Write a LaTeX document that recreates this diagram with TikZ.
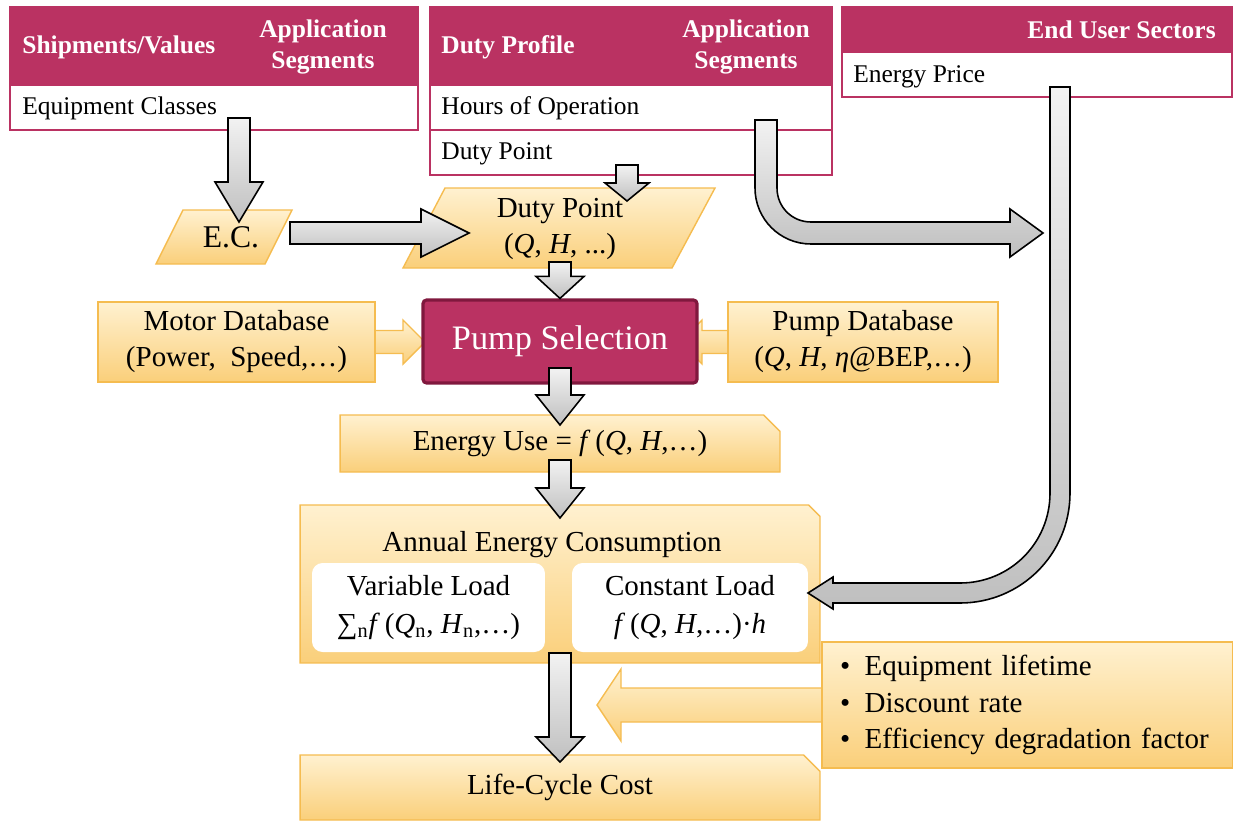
\documentclass[tikz,border=0pt]{standalone}
\usepackage{fontspec}
\setmainfont{Liberation Serif}
\usetikzlibrary{positioning,calc,shapes.misc}

\definecolor{magred}{RGB}{186,50,98}
\definecolor{magdark}{RGB}{128,24,62}
\definecolor{orglight}{RGB}{255,241,208}
\definecolor{orgdark}{RGB}{250,207,122}
\definecolor{orgline}{RGB}{245,188,80}

% block arrow: [closing] style, from, to, shaft half width, head half width, head length
\newcommand\blockarrow[7][-- cycle]{%
  \coordinate (hb) at ($(#4)!#7!(#3)$);
  \draw[#2] ($(#3)!#5!90:(#4)$) -- ($(hb)!#5!90:(#4)$) -- ($(hb)!#6!90:(#4)$) -- (#4)
    -- ($(hb)!#6!-90:(#4)$) -- ($(hb)!#5!-90:(#4)$) -- ($(#3)!#5!-90:(#4)$) #1;}

\begin{document}
\begin{tikzpicture}[x=0.02cm, y=-0.02cm,
  hdr/.style={fill=magred, draw=magred, line width=0.8pt, inner sep=0pt},
  rowbox/.style={draw=magred, fill=white, line width=0.8pt, minimum height=0.9cm, inner sep=0pt},
  hdrtext/.style={text=white, font=\fontsize{14.5}{17.6}\selectfont\bfseries, align=center, inner sep=0pt},
  rowtext/.style={font=\fontsize{14.5}{17}\selectfont, anchor=west, inner sep=0pt},
  obox/.style={draw=orgline, line width=0.8pt, top color=orglight, bottom color=orgdark},
  otext/.style={font=\fontsize{16.5}{20.5}\selectfont, align=center},
  snip/.style={chamfered rectangle, chamfered rectangle corners=north east, chamfered rectangle xsep=#1},
  wbox/.style={fill=white, rounded corners=6pt, minimum height=1.78cm, font=\fontsize{16.5}{21.5}\selectfont, align=center},
  gblock/.style={draw=black, line width=0.9pt, top color=gray!10, bottom color=gray!50},
  oblock/.style={draw=orgline, line width=0.8pt, top color=orglight, bottom color=orgdark}]

  \useasboundingbox (0,0) rectangle (1233,822);

  % input tables
  \node[hdr, minimum width=8.16cm, minimum height=1.56cm] (shiphdr) at (214,46) {};
  \node[hdrtext, anchor=west] (shipttl) at (22,47) {Shipments/Values};
  \node[hdrtext] (appseg1) at (323,47) {Application\\Segments};
  \node[rowbox, minimum width=8.16cm] (eqcls) at (214,107.5) {};
  \node[rowtext] (eqtxt) at (22,108) {Equipment Classes};

  \node[hdr, minimum width=8.04cm, minimum height=1.56cm] (dutyhdr) at (631,46) {};
  \node[hdrtext, anchor=west] (dutyttl) at (441,47) {Duty Profile};
  \node[hdrtext] (appseg2) at (746,47) {Application\\Segments};
  \node[rowbox, minimum width=8.04cm] (hoursrow) at (631,107.5) {};
  \node[rowbox, minimum width=8.04cm] (dprow) at (631,152.5) {};
  \node[rowtext] (hourstxt) at (441,108) {Hours of Operation};
  \node[rowtext] (dptxt) at (441,154) {Duty Point};

  \node[hdr, minimum width=7.8cm, minimum height=0.9cm] (endhdr) at (1037,29.5) {};
  \node[hdrtext, anchor=east] (endttl) at (1216,30) {End User Sectors};
  \node[rowbox, minimum width=7.8cm] (pricerow) at (1037,74.5) {};
  \node[rowtext] (pricetxt) at (853,77) {Energy Price};

  % parallelograms
  \draw[obox] (183,210) -- (292,210) -- (265,264) -- (156,264) -- cycle;
  \node[otext, font=\fontsize{18}{20}\selectfont] (ec) at (231,237) {E.C.};
  \draw[obox] (445,188) -- (715,188) -- (672,268) -- (403,268) -- cycle;
  \node[otext, font=\fontsize{16.5}{20.4}\selectfont] (dutypt) at (560,229) {Duty Point\\(\textit{Q}, \textit{H}, ...)};

  % selection row
  \blockarrow[]{oblock}{237,342}{425,342}{0.23cm}{0.44cm}{0.44cm}
  \blockarrow[]{oblock}{863,342}{680,342}{0.23cm}{0.44cm}{0.44cm}
  \node[obox, otext, minimum width=5.54cm, minimum height=1.6cm] (motordb) at (236.5,342) {Motor Database\\(Power,~ Speed,…)};
  \node[obox, otext, minimum width=5.4cm, minimum height=1.6cm] (pumpdb) at (863,342) {Pump Database\\(\textit{Q}, \textit{H}, \textit{η}@BEP,…)};
  \node[draw=magdark, line width=1.8pt, fill=magred, text=white, rounded corners=2pt,
        font=\fontsize{19.5}{23}\selectfont, minimum width=5.48cm, minimum height=1.66cm] (pumpsel) at (560,341.5) {Pump Selection};

  % energy chain
  \node[obox, otext, snip=0.22cm, minimum width=8.8cm, minimum height=1.14cm] (enuse) at (560,443.5)
    {Energy Use = \textit{f}\,(\textit{Q}, \textit{H},…)};
  \node[obox, snip=0.5cm, minimum width=10.4cm, minimum height=3.16cm] (annual) at (560,584) {};
  \node[otext] (anntitle) at (552,545) {Annual Energy Consumption};
  \node[wbox, minimum width=4.66cm] (varload) at (428.5,607.5)
    {Variable Load\\∑\textsubscript{n}\textit{f}\,(\textit{Q}\textsubscript{n}, \textit{H}\textsubscript{n},…)};
  \node[wbox, minimum width=4.72cm] (constload) at (690,607.5)
    {Constant Load\\\textit{f}\,(\textit{Q}, \textit{H},…)·\textit{h}};

  \coordinate (ltip) at (597,705);
  \blockarrow[]{oblock}{1000,705}{ltip}{0.34cm}{0.72cm}{0.48cm}
  \node[obox, minimum width=8.22cm, minimum height=2.52cm, inner xsep=0.36cm, text width=7.5cm, align=left,
        font=\fontsize{16.5}{20.7}\selectfont] (params) at (1027.5,705)
    {\textbullet\enspace Equipment lifetime\\\textbullet\enspace Discount rate\\\textbullet\enspace Efficiency degradation factor};
  \node[obox, otext, snip=0.22cm, minimum width=10.4cm, minimum height=1.3cm] (lcc) at (560,787.5) {Life-Cycle Cost};

  % gray flow arrows
  \coordinate (a1s) at (239,118);
  \coordinate (a1t) at (239,222);
  \blockarrow{gblock}{a1s}{a1t}{0.22cm}{0.48cm}{0.8cm}
  \coordinate (a2s) at (627,165);
  \coordinate (a2t) at (627,201);
  \blockarrow{gblock}{a2s}{a2t}{0.22cm}{0.44cm}{0.36cm}
  \coordinate (a3s) at (290,233);
  \coordinate (a3t) at (469,233);
  \blockarrow{gblock}{a3s}{a3t}{0.22cm}{0.48cm}{0.96cm}
  \coordinate (a4s) at (560,262);
  \blockarrow{gblock}{a4s}{pumpsel.north}{0.22cm}{0.48cm}{0.44cm}
  \coordinate (a5s) at (560,368);
  \coordinate (a5t) at (560,425);
  \blockarrow{gblock}{a5s}{a5t}{0.22cm}{0.48cm}{0.6cm}
  \coordinate (a6s) at (560,460);
  \coordinate (a6t) at (560,518);
  \blockarrow{gblock}{a6s}{a6t}{0.22cm}{0.48cm}{0.6cm}
  \coordinate (a7s) at (560,653);
  \coordinate (a7t) at (560,762);
  \blockarrow{gblock}{a7s}{a7t}{0.22cm}{0.48cm}{0.5cm}

  % bent arrows
  \draw[gblock] (755,120) -- (755,188) .. controls (755,219) and (780,244) .. (811,244)
    -- (1010,244) -- (1010,257) -- (1043,233) -- (1010,209) -- (1010,222) -- (811,222)
    .. controls (792,222) and (777,207) .. (777,188) -- (777,120) -- cycle;
  \draw[gblock] (1050,87) -- (1050,493) .. controls (1050,543) and (1010,583) .. (960,583)
    -- (833,583) -- (833,577) -- (808,593) -- (833,609) -- (833,603) -- (960,603)
    .. controls (1021,603) and (1070,554) .. (1070,493) -- (1070,87) -- cycle;
\end{tikzpicture}
\end{document}
